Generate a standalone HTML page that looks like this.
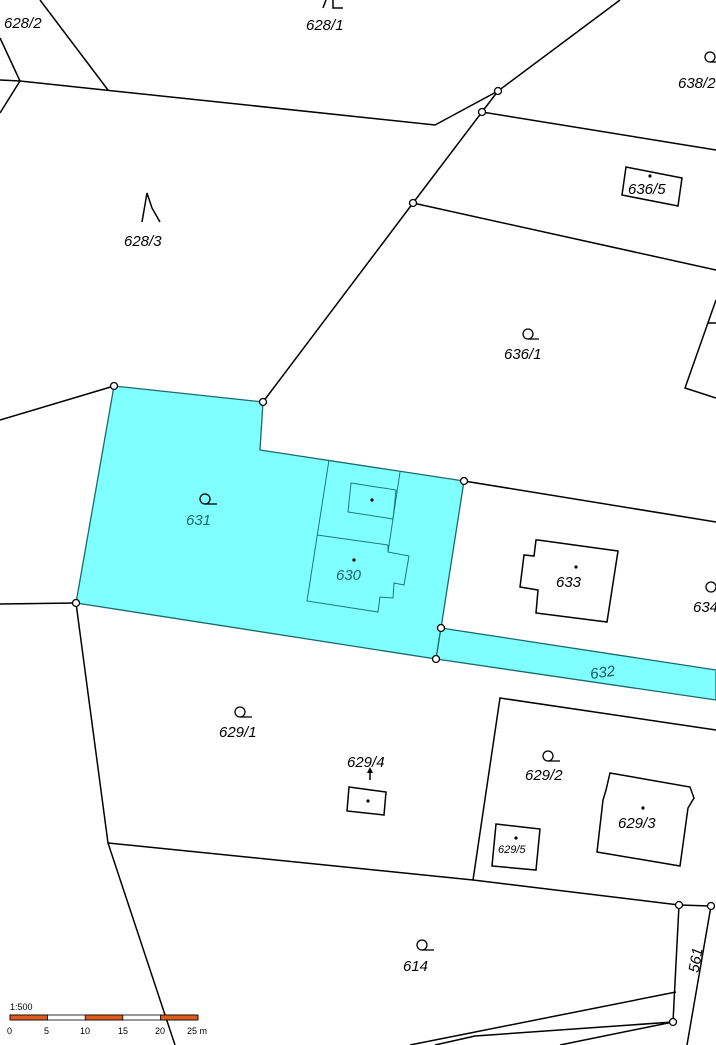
<!DOCTYPE html><html><head><style>body{margin:0;background:#fff}svg{display:block}text{font-family:"Liberation Sans",sans-serif;font-style:italic;font-size:15px}</style></head><body>
<svg width="716" height="1045" viewBox="0 0 716 1045">
<g fill="#7fffff" stroke="#1a6a6a" stroke-width="1.3">
<polygon points="114,386 263,402 260,450 464,481 441,628 436,659 76,603"/>
<polygon points="441,628 716,670 716,700 436,659"/>
</g>
<g fill="none" stroke="#1a7a7a" stroke-width="1">
<polyline points="329,460 307,601 378,612 380,597 393,598 394,583 404,585 409,556 388,552 400,472"/>
<line x1="317" y1="535" x2="388" y2="545"/><line x1="388" y1="545" x2="388" y2="552"/>
<polygon points="351,483 396,490 393,519 348,512"/>
</g>
<g fill="none" stroke="#000" stroke-width="1.5">
<line x1="40" y1="0" x2="108" y2="90"/>
<polyline points="0,80 20,81 435,125 498,91 620,0"/>
<line x1="20" y1="81" x2="0" y2="113"/>
<line x1="20" y1="81" x2="0" y2="38"/>
<polyline points="498,91 482,112 413,203 263,402"/>
<line x1="482" y1="112" x2="716" y2="150"/>
<line x1="413" y1="203" x2="716" y2="270"/>
<polygon points="626,167 682,178 678,206 622,195"/>
<polyline points="716,300 685,388 716,398"/>
<line x1="708" y1="323" x2="716" y2="323"/>
<line x1="0" y1="420" x2="114" y2="386"/>
<line x1="464" y1="481" x2="716" y2="522"/>
<line x1="0" y1="604" x2="76" y2="603"/>
<polyline points="76,603 108,843 175,1045"/>
<polyline points="108,843 473,880 679,905 711,906"/>
<polyline points="473,880 500,698 716,730"/>
<polygon points="610,773 690,787 694,798 688,808 680,866 597,852 603,800 606,790"/>
<polygon points="496,824 540,829 536,870 492,866"/>
<polygon points="349,787 386,792 384,815 347,811"/>
<polygon points="538,540 618,551 607,622 536,613 538,590 520,587 524,555 534,556 536,540"/>
<line x1="679" y1="905" x2="673" y2="1022"/>
<line x1="711" y1="906" x2="687" y2="1045"/>
<line x1="676" y1="992" x2="410" y2="1045"/>
<polyline points="673,1022 475,1036 435,1045"/>
<line x1="673" y1="1022" x2="560" y2="1045"/>
<line x1="370" y1="780" x2="370" y2="770"/>
<polyline points="142,222 147,193 152,208 160,222"/>
<polyline points="323,8 326,0"/><polyline points="333,0 333,8 343,8"/>
</g>
<g fill="#fff" stroke="#000" stroke-width="1.3">
<circle cx="498" cy="91" r="3.5"/><circle cx="482" cy="112" r="3.5"/><circle cx="413" cy="203" r="3.5"/>
<circle cx="263" cy="402" r="3.5"/><circle cx="114" cy="386" r="3.5"/><circle cx="464" cy="481" r="3.5"/>
<circle cx="441" cy="628" r="3.5"/><circle cx="436" cy="659" r="3.5"/><circle cx="76" cy="603" r="3.5"/>
<circle cx="679" cy="905" r="3.5"/><circle cx="711" cy="906" r="3.5"/><circle cx="673" cy="1022" r="3.5"/>
</g>
<g fill="#000"><circle cx="650" cy="176" r="1.6"/><circle cx="576" cy="567" r="1.6"/><circle cx="368" cy="801" r="1.6"/><circle cx="516" cy="838" r="1.6"/><circle cx="643" cy="808" r="1.6"/><circle cx="372" cy="500" r="1.6"/><circle cx="354" cy="560" r="1.6"/>
<polygon points="370,767 367,773 373,773"/></g>
<g fill="none" stroke="#000" stroke-width="1.3">
<circle cx="528" cy="334" r="5"/><line x1="528" y1="339" x2="539" y2="339"/>
<circle cx="205" cy="499" r="5"/><line x1="205" y1="504" x2="217" y2="504"/>
<circle cx="240" cy="712" r="5"/><line x1="240" y1="717" x2="252" y2="717"/>
<circle cx="548" cy="756" r="5"/><line x1="548" y1="761" x2="560" y2="761"/>
<circle cx="422" cy="945" r="5"/><line x1="422" y1="950" x2="434" y2="950"/>
<circle cx="711" cy="587" r="5"/>
<circle cx="710" cy="57" r="5"/><line x1="710" y1="62" x2="716" y2="62"/>
</g>
<g>
<text x="4" y="28">628/2</text><text x="306" y="30">628/1</text><text x="678" y="88">638/2</text>
<text x="628" y="194">636/5</text><text x="124" y="246">628/3</text><text x="504" y="359">636/1</text>
<text x="186" y="525" fill="#1a6a6a">631</text><text x="336" y="580" fill="#1a6a6a">630</text>
<text x="556" y="587">633</text><text x="693" y="612">634</text>
<text x="590" y="677" fill="#1a5a5a" transform="rotate(-8 605 672)">632</text>
<text x="219" y="737">629/1</text><text x="347" y="767">629/4</text><text x="525" y="780">629/2</text>
<text x="618" y="828">629/3</text><text x="498" y="853" style="font-size:11px">629/5</text>
<text x="403" y="971">614</text>
<text x="678" y="977" transform="rotate(-80 686 963)">561</text>
</g>
<g stroke="#000" stroke-width="0.8"><rect x="10" y="1015" width="188" height="5" fill="#fff"/>
<rect x="10" y="1015" width="37.6" height="5" fill="#e05a1a"/><rect x="85.2" y="1015" width="37.6" height="5" fill="#e05a1a"/><rect x="160.4" y="1015" width="37.6" height="5" fill="#e05a1a"/></g>
<g><text x="10" y="1010" style="font-style:normal;font-size:9px">1:500</text>
<text x="7" y="1034" style="font-style:normal;font-size:9px">0</text><text x="44" y="1034" style="font-style:normal;font-size:9px">5</text>
<text x="80" y="1034" style="font-style:normal;font-size:9px">10</text><text x="118" y="1034" style="font-style:normal;font-size:9px">15</text>
<text x="155" y="1034" style="font-style:normal;font-size:9px">20</text><text x="187" y="1034" style="font-style:normal;font-size:9px">25 m</text></g>
</svg></body></html>
